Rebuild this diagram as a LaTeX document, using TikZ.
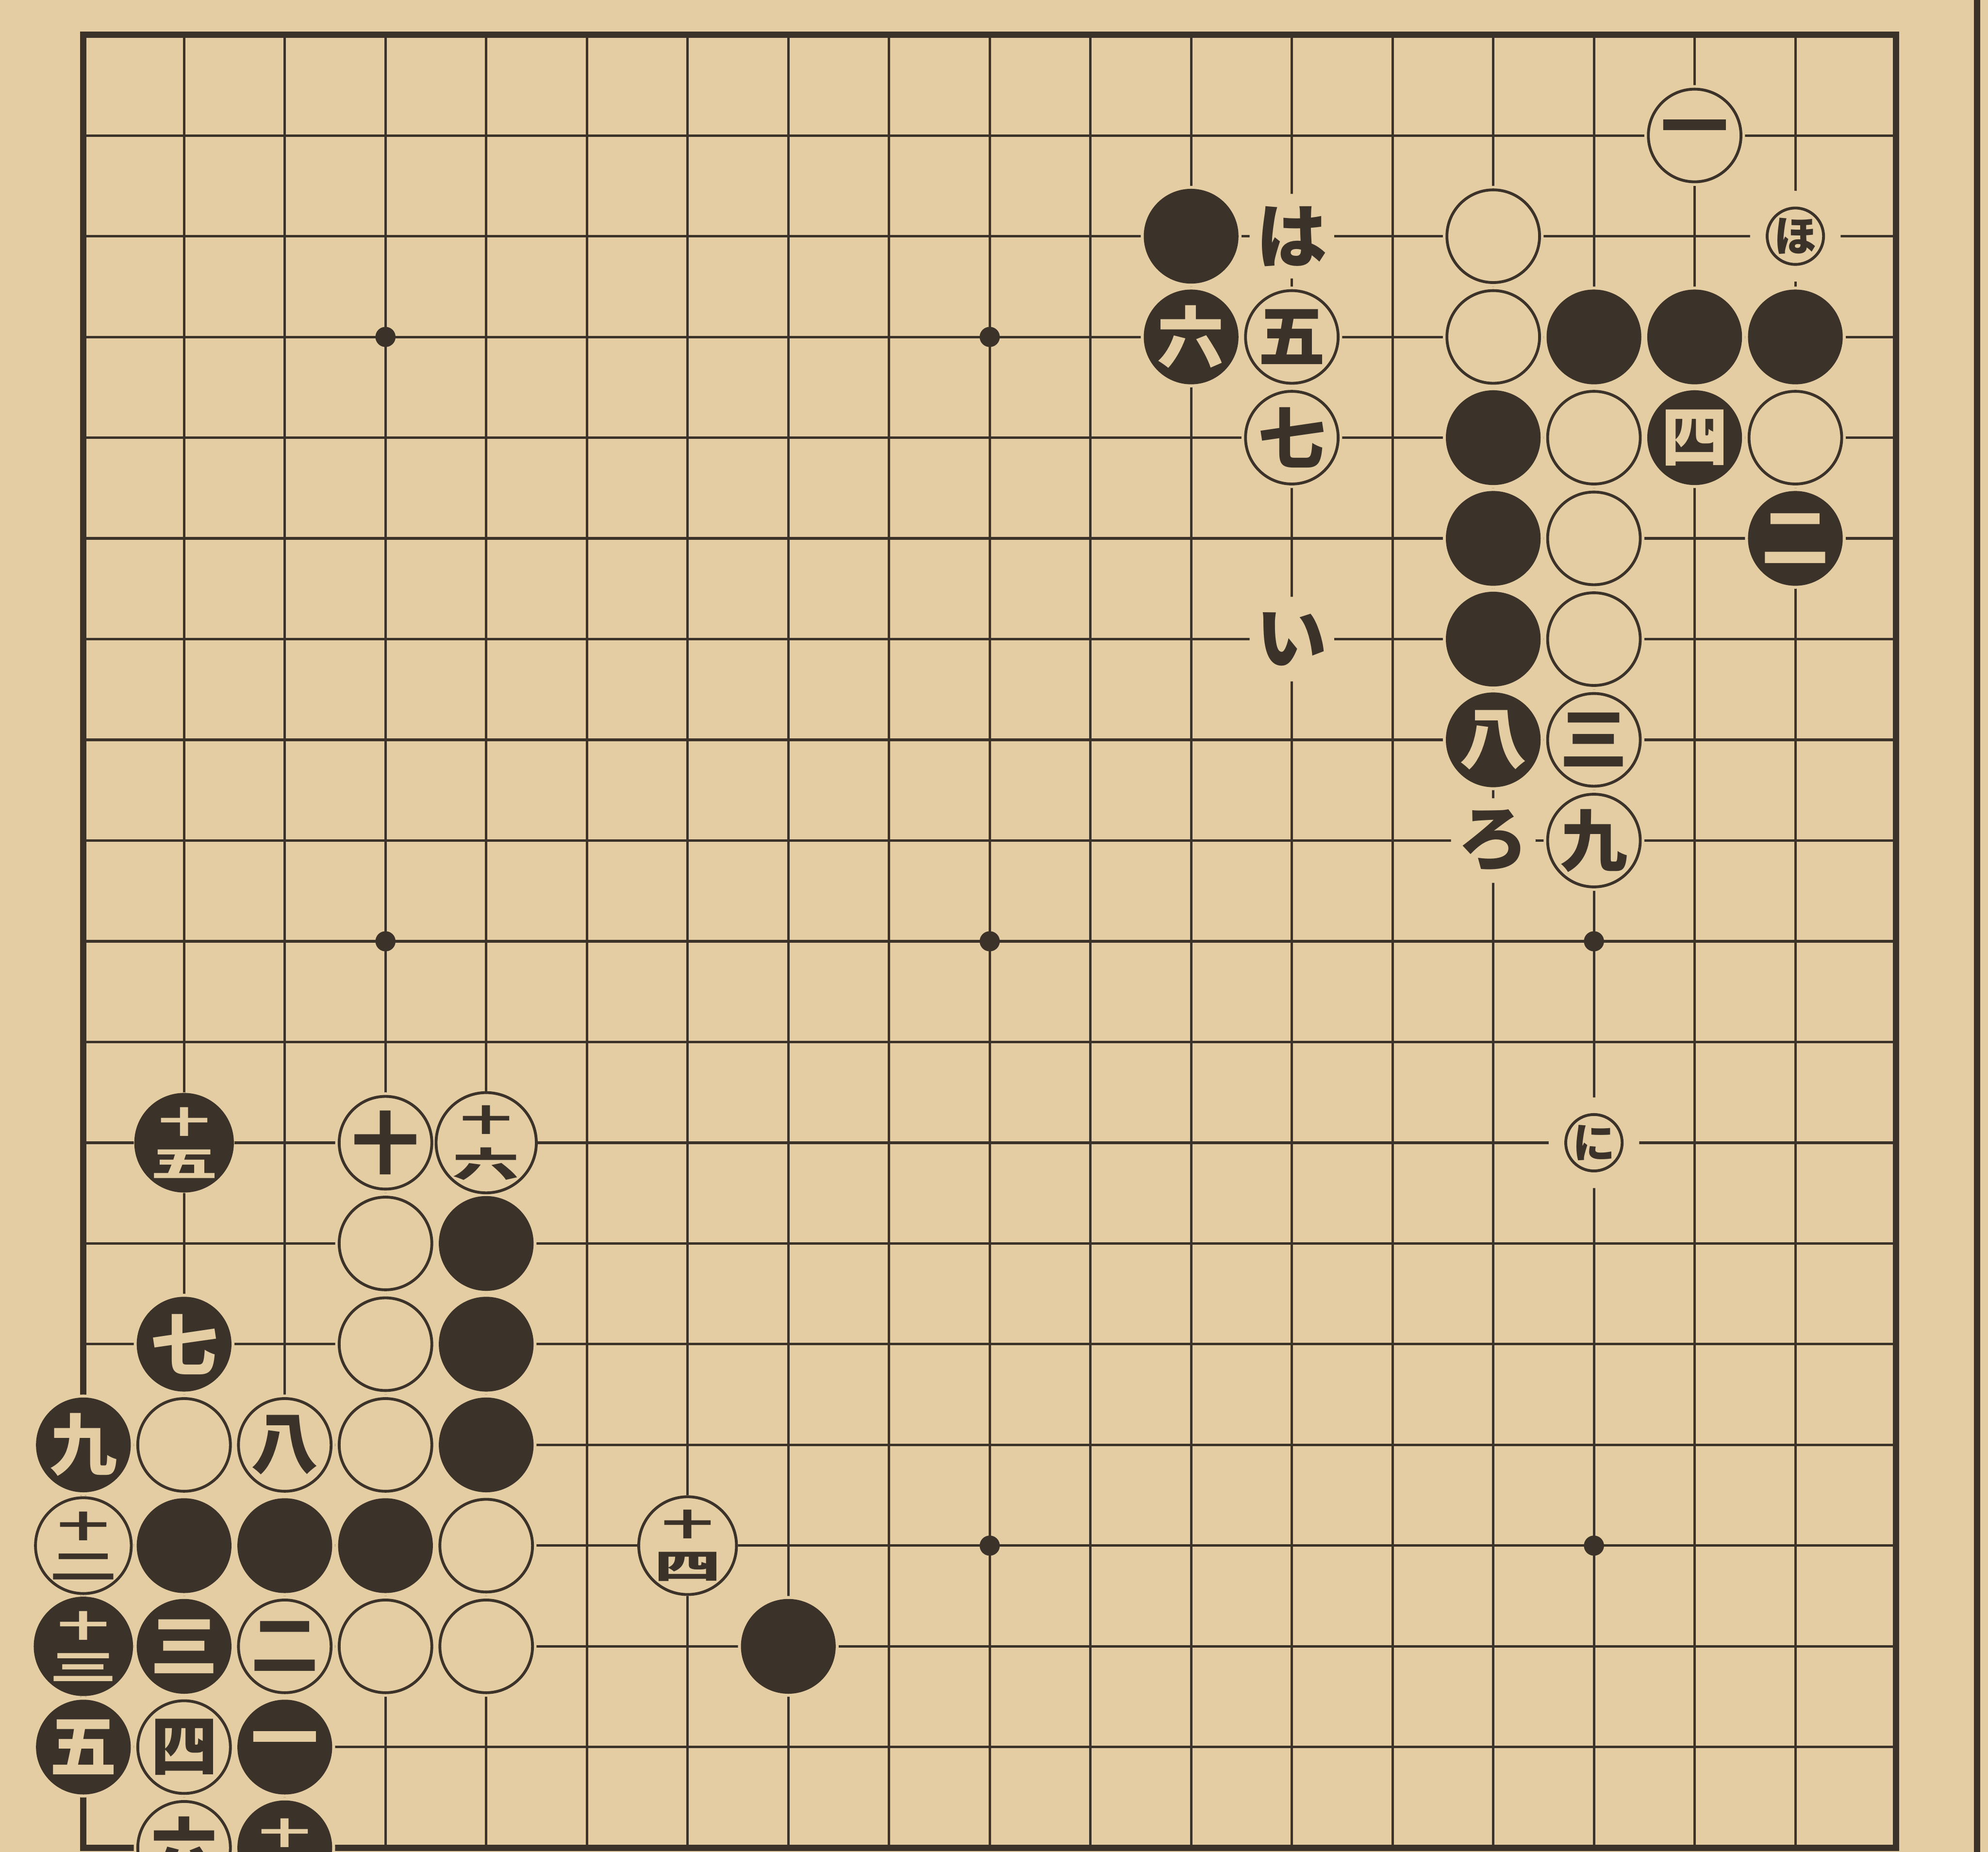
\documentclass[tikz,border=0pt]{standalone}
\usepackage{fontspec}
\usepackage{graphicx}
\newfontfamily\cjk{Noto Sans CJK JP}
\definecolor{paper}{HTML}{E5CDA3}
\definecolor{ink}{HTML}{3B3329}
\newcommand\tw[2]{\shortstack{\scalebox{0.75}[0.45]{#1}\\[0.8pt]\scalebox{1}[0.52]{#2}}}
\begin{document}
\begin{tikzpicture}[x=1cm,y=-1cm,
  stoneB/.style={circle, fill=ink, draw=ink, line width=0.6pt, minimum size=0.92cm, inner sep=0pt, text=paper, font=\cjk\bfseries\fontsize{19}{19}\selectfont},
  stoneW/.style={circle, fill=paper, draw=ink, line width=0.8pt, minimum size=0.92cm, inner sep=0pt, text=ink, font=\cjk\bfseries\fontsize{19}{19}\selectfont},
  smallmk/.style={circle, fill=paper, draw=ink, line width=0.8pt, minimum size=0.56cm, inner sep=0pt, text=ink, font=\cjk\bfseries\fontsize{12}{12}\selectfont},
  lbl/.style={inner sep=0pt, text=ink, font=\cjk\bfseries\fontsize{20}{20}\selectfont},
  gridline/.style={draw=ink, line width=0.7pt},
  edge/.style={draw=ink, line width=1.8pt}
]
\useasboundingbox (-0.828,-0.345) rectangle (18.913,18.04);
\fill[paper] (-0.828,-0.345) rectangle (18.913,18.04);
% grid
\foreach \i in {1,...,17} {
  \draw[gridline] (\i,0) -- (\i,18);
  \draw[gridline] (0,\i) -- (18,\i);
}
\draw[edge] (0,0) rectangle (18,18);
\draw[edge] (18.805,-0.345) -- (18.805,18.04);
% star points
\foreach \c/\r in {3/3,9/3,15/3,3/9,9/9,15/9,3/15,9/15,15/15}
  \fill[ink] (\c,\r) circle (0.1);
% stone list
\def\stones{16/1/stoneW/一, 14/2/stoneW/{}, 11/2/stoneB/{},
  11/3/stoneB/六, 12/3/stoneW/五, 14/3/stoneW/{}, 15/3/stoneB/{}, 16/3/stoneB/{}, 17/3/stoneB/{},
  12/4/stoneW/七, 14/4/stoneB/{}, 15/4/stoneW/{}, 16/4/stoneB/四, 17/4/stoneW/{},
  14/5/stoneB/{}, 15/5/stoneW/{}, 17/5/stoneB/二,
  14/6/stoneB/{}, 15/6/stoneW/{},
  14/7/stoneB/八, 15/7/stoneW/三,
  15/8/stoneW/九,
  1/11/stoneB/{\tw{十}{五}}, 3/11/stoneW/十, 4/11/stoneW/{\tw{十}{六}},
  3/12/stoneW/{}, 4/12/stoneB/{},
  1/13/stoneB/七, 3/13/stoneW/{}, 4/13/stoneB/{},
  0/14/stoneB/九, 1/14/stoneW/{}, 2/14/stoneW/八, 3/14/stoneW/{}, 4/14/stoneB/{},
  0/15/stoneW/{\tw{十}{二}}, 1/15/stoneB/{}, 2/15/stoneB/{}, 3/15/stoneB/{}, 4/15/stoneW/{}, 6/15/stoneW/{\tw{十}{四}},
  0/16/stoneB/{\tw{十}{三}}, 1/16/stoneB/三, 2/16/stoneW/二, 3/16/stoneW/{}, 4/16/stoneW/{}, 7/16/stoneB/{},
  0/17/stoneB/五, 1/17/stoneW/四, 2/17/stoneB/一,
  1/18/stoneW/六, 2/18/stoneB/{\tw{十}{一}}}
\def\marks{17/2/ほ, 15/11/に}
\def\labels{12/2/は, 12/6/い, 14/8/ろ}
% halos
\foreach \c/\r/\t/\l in \stones \fill[paper] (\c,\r) circle (0.5);
\foreach \c/\r/\l in \marks \fill[paper] (\c,\r) circle (0.45);
\foreach \c/\r/\l in \labels \fill[paper] (\c,\r) circle (0.42);
% stones and labels
\foreach \c/\r/\t/\l in \stones \node[\t] (s-\c-\r) at (\c,\r) {\l};
\foreach \c/\r/\l in \marks \node[smallmk] (m-\c-\r) at (\c,\r) {\l};
\foreach \c/\r/\l in \labels \node[lbl] (l-\c-\r) at (\c,\r) {\l};
\end{tikzpicture}
\end{document}
